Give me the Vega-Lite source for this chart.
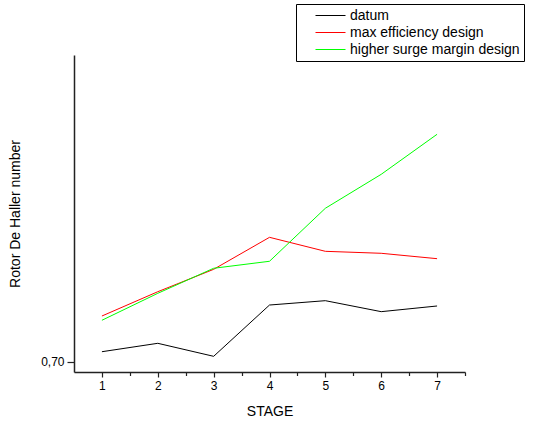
{
  "$schema": "https://vega.github.io/schema/vega-lite/v6.json",
  "width": 391,
  "height": 317,
  "autosize": "none",
  "padding": {"left": 74, "top": 55, "right": 78, "bottom": 52},
  "config": {
    "view": {"stroke": null},
    "font": "Liberation Sans",
    "axis": {"grid": false, "domainColor": "#222222", "domainWidth": 1.5, "tickColor": "#222222", "tickWidth": 1.2, "labelColor": "#000000", "titleColor": "#000000", "labelFont": "Liberation Sans", "titleFont": "Liberation Sans", "titleFontWeight": "normal"}
  },
  "data": {
    "values": [
      {"stage": 1, "series": "datum", "value": 0.70147},
      {"stage": 2, "series": "datum", "value": 0.70267},
      {"stage": 3, "series": "datum", "value": 0.70081},
      {"stage": 4, "series": "datum", "value": 0.70814},
      {"stage": 5, "series": "datum", "value": 0.70876},
      {"stage": 6, "series": "datum", "value": 0.70719},
      {"stage": 7, "series": "datum", "value": 0.70800},
      {"stage": 1, "series": "max efficiency design", "value": 0.70657},
      {"stage": 2, "series": "max efficiency design", "value": 0.71004},
      {"stage": 3, "series": "max efficiency design", "value": 0.71324},
      {"stage": 4, "series": "max efficiency design", "value": 0.71781},
      {"stage": 5, "series": "max efficiency design", "value": 0.71581},
      {"stage": 6, "series": "max efficiency design", "value": 0.71553},
      {"stage": 7, "series": "max efficiency design", "value": 0.71476},
      {"stage": 1, "series": "higher surge margin design", "value": 0.70596},
      {"stage": 2, "series": "higher surge margin design", "value": 0.70981},
      {"stage": 3, "series": "higher surge margin design", "value": 0.71339},
      {"stage": 4, "series": "higher surge margin design", "value": 0.71439},
      {"stage": 5, "series": "higher surge margin design", "value": 0.72196},
      {"stage": 6, "series": "higher surge margin design", "value": 0.72681},
      {"stage": 7, "series": "higher surge margin design", "value": 0.73253}
    ]
  },
  "mark": {"type": "line", "strokeWidth": 1},
  "encoding": {
    "x": {
      "field": "stage", "type": "quantitative",
      "scale": {"domain": [0.5, 7.5], "nice": false, "zero": false},
      "axis": {
        "values": [1, 1.5, 2, 2.5, 3, 3.5, 4, 4.5, 5, 5.5, 6, 6.5, 7, 7.5],
        "labelExpr": "datum.value % 1 === 0 ? format(datum.value, 'd') : ''",
        "tickSize": {"condition": {"test": "datum.value % 1 !== 0", "value": 3.5}, "value": 5},
        "labelFontSize": 12, "labelPadding": 3, "labelFlush": false, "labelOverlap": false,
        "title": "STAGE", "titleFontSize": 14, "titlePadding": 13
      }
    },
    "y": {
      "field": "value", "type": "quantitative",
      "scale": {"domain": [0.698571, 0.743857], "nice": false, "zero": false},
      "axis": {"values": [0.7], "labelExpr": "replace(format(datum.value, '.2f'), '.', ',')", "tickSize": 7, "labelFontSize": 12, "labelPadding": 3, "title": "Rotor De Haller number", "titleFontSize": 14, "titlePadding": 18}
    },
    "color": {
      "field": "series", "type": "nominal",
      "scale": {"domain": ["datum", "max efficiency design", "higher surge margin design"], "range": ["#000000", "#ff0000", "#00ff00"]},
      "legend": {
        "orient": "none", "legendX": 222, "legendY": -51, "title": null,
        "symbolType": "stroke", "symbolSize": 900, "symbolStrokeWidth": 1,
        "strokeColor": "#000000", "fillColor": "#ffffff", "padding": 4,
        "clipHeight": 15, "rowPadding": 2, "symbolOffset": 15, "labelOffset": 4,
        "labelFontSize": 14, "labelLimit": 300, "labelColor": "#000000", "labelFont": "Liberation Sans"
      }
    }
  }
}
